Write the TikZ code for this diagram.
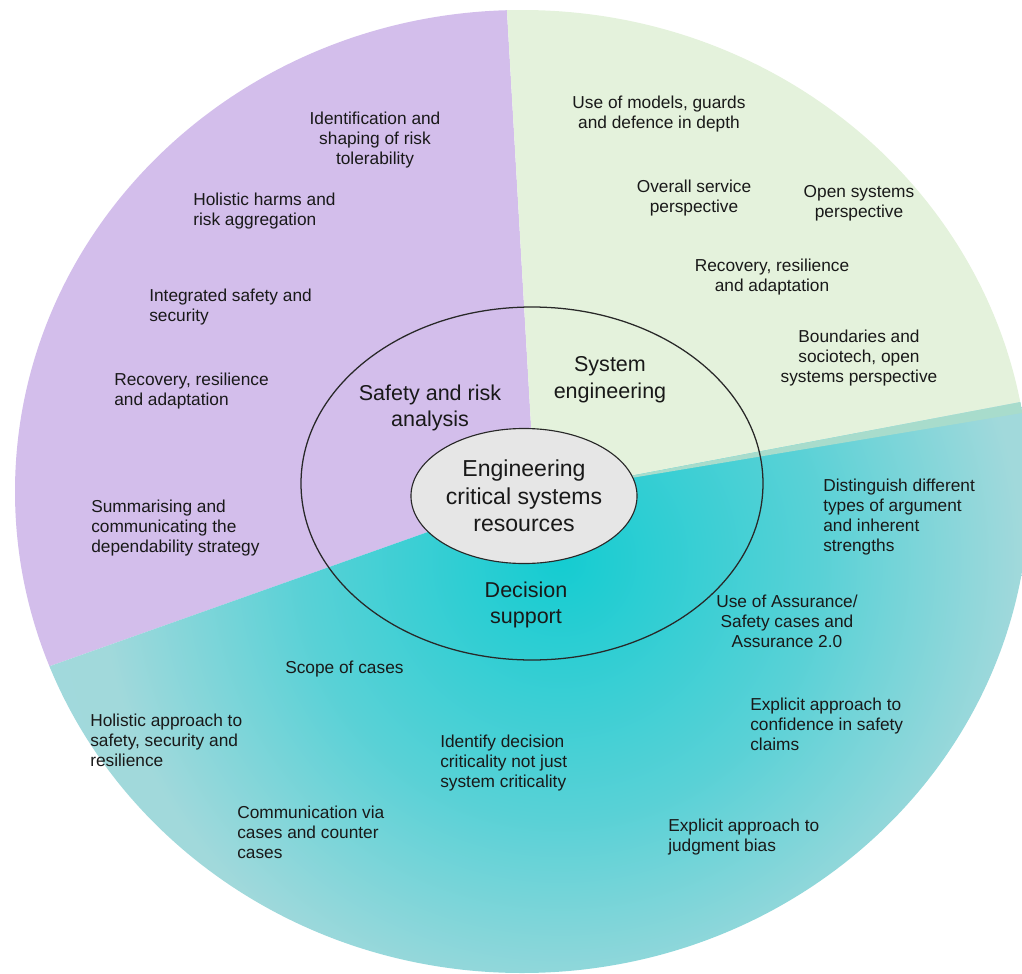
\documentclass[tikz,border=0pt]{standalone}
\usepackage{fontspec}
\setmainfont{Liberation Sans}
\usetikzlibrary{shapes.geometric}
\definecolor{lilac}{RGB}{211,190,235}
\definecolor{palegreen}{RGB}{228,242,220}
\definecolor{mintstrip}{RGB}{168,220,204}
\definecolor{ringline}{RGB}{40,40,40}
\definecolor{core}{RGB}{230,230,230}
\definecolor{ink}{RGB}{25,25,25}
\pgfdeclareradialshading{tealglow}{\pgfpoint{0bp}{0bp}}{rgb(0bp)=(0.08,0.80,0.82); rgb(6.5bp)=(0.35,0.82,0.84); rgb(11.5bp)=(0.63,0.85,0.86); rgb(25bp)=(0.65,0.85,0.87); rgb(50bp)=(0.65,0.85,0.87)}

\begin{document}
\begin{tikzpicture}[x=0.025cm,y=-0.025cm,
	outer/.style={font=\fontsize{12.3}{14.2}\selectfont,text=ink,inner sep=0,align=center},
	outerleft/.style={outer,align=left,anchor=west},
	field/.style={font=\fontsize{15.3}{19}\selectfont,text=ink,inner sep=0,align=center}]
		\useasboundingbox (0,0) rectangle (1022,974);
		\begin{scope}
			\clip (522,491.5) ellipse [x radius=507,y radius=481.5];
			\fill[lilac] (535,494) -- (504,-40) -- (-40,-40) -- (-40,698) -- cycle;
			\fill[palegreen] (535,494) -- (504,-40) -- (1100,-40) -- (1100,387) -- cycle;
			\begin{scope}
				\clip (535,494) -- (1100,387) -- (1100,1040) -- (-40,1040) -- (-40,698) -- cycle;
				\shade[shading=tealglow] (560,560) circle (1000);
			\end{scope}
			\fill[mintstrip] (535,494) -- (1100,387) -- (1100,400) -- cycle;
		\end{scope}
		\draw[ringline,line width=0.9pt] (532,483.5) ellipse [x radius=231,y radius=176.5];
		\node[ellipse,draw=ringline,fill=core,line width=0.8pt,inner sep=0,minimum width=5.65cm,minimum height=3.375cm,
			font=\fontsize{16.4}{19.6}\selectfont,text=ink,align=center] (centre) at (524,496) {Engineering\\critical systems\\resources};
		\node[field] (safety) at (430,408) {Safety and risk\\analysis};
		\node[field] (syseng) at (610,380) {System\\engineering};
		\node[field] (decision) at (526,605) {Decision\\support};

		\node[outer] (tolerability) at (375,140) {Identification and\\shaping of risk\\tolerability};
		\node[outerleft] (harms) at (193,211) {Holistic harms and\\risk aggregation};
		\node[outerleft] (integrated) at (149,307) {Integrated safety and\\security};
		\node[outerleft] (recoveryleft) at (114,391) {Recovery, resilience\\and adaptation};
		\node[outerleft] (summarising) at (91,528) {Summarising and\\communicating the\\dependability strategy};

		\node[outer] (models) at (659,114) {Use of models, guards\\and defence in depth};
		\node[outer] (service) at (694,198) {Overall service\\perspective};
		\node[outer] (opensys) at (859,203) {Open systems\\perspective};
		\node[outer] (recoveryright) at (772,277) {Recovery, resilience\\and adaptation};
		\node[outer] (boundaries) at (859,358) {Boundaries and\\sociotech, open\\systems perspective};

		\node[outerleft] (distinguish) at (823,517) {Distinguish different\\types of argument\\and inherent\\strengths};
		\node[outer] (assurance) at (787,621) {Use of Assurance/\\Safety cases and\\Assurance 2.0};
		\node[outerleft] (confidence) at (750,724) {Explicit approach to\\confidence in safety\\claims};
		\node[outerleft] (bias) at (668,837) {Explicit approach to\\judgment bias};
		\node[outerleft] (scope) at (285,669) {Scope of cases};
		\node[outerleft] (holistic) at (90,740) {Holistic approach to\\safety, security and\\resilience};
		\node[outerleft] (communication) at (237,832) {Communication via\\cases and counter\\cases};
		\node[outerleft] (identify) at (440,763) {Identify decision\\criticality not just\\system criticality};
	\end{tikzpicture}
\end{document}
